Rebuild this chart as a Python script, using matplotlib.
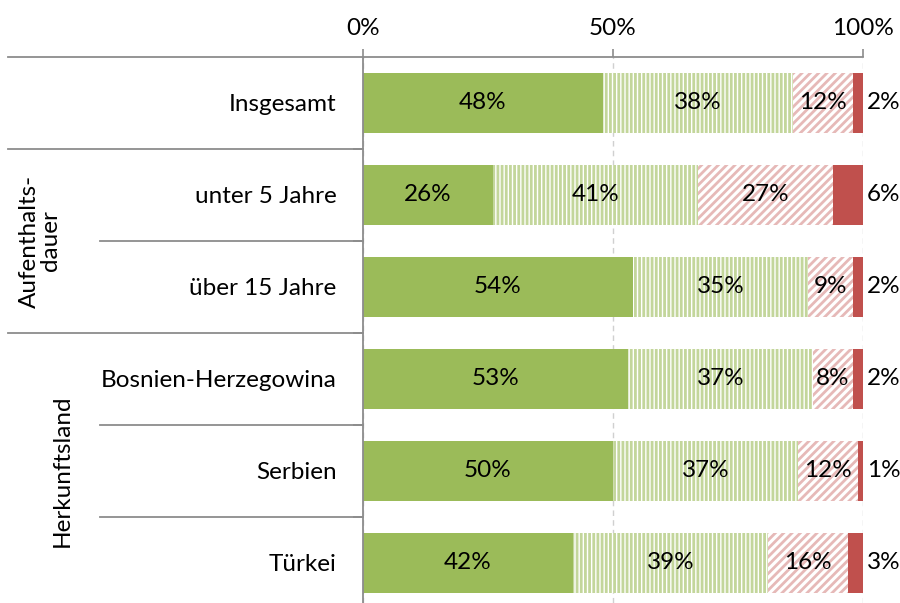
import matplotlib
matplotlib.use("Agg")
import matplotlib.pyplot as plt
import matplotlib.transforms as mtransforms

plt.rcParams['font.family'] = ['Lato', 'DejaVu Sans']
plt.rcParams['hatch.linewidth'] = 2.0

categories = ["Insgesamt", "unter 5 Jahre", "über 15 Jahre",
              "Bosnien-Herzegowina", "Serbien", "Türkei"]
s1 = [48, 26, 54, 53, 50, 42]
s2 = [38, 41, 35, 37, 37, 39]
s3 = [12, 27, 9, 8, 12, 16]
s4 = [2, 6, 2, 2, 1, 3]
xticks = [0, 50, 100]
xticklabels = ["0%", "50%", "100%"]
groups = [("Aufenthalts-\ndauer", 1.5), ("Herkunftsland", 4.0)]

W, H = 900, 603
fig = plt.figure(figsize=(9, 6.03), dpi=100)
ax = fig.add_axes([363 / W, 0, 500 / W, 1 - 57 / H])

FS = 17.5
ypos = list(range(len(categories)))
bh = 0.65
grey = '#8c8c8c'

left = [0] * len(categories)
styles = [
    dict(color='#9BBB59', edgecolor='#9BBB59', linewidth=0),
    dict(facecolor='white', edgecolor='#C3D69B', hatch='||||', linewidth=0),
    dict(facecolor='white', edgecolor='#E6B9B8', hatch='////', linewidth=0),
    dict(color='#C0504D', edgecolor='#C0504D', linewidth=0),
]
series = [s1, s2, s3, s4]
ax.set_axisbelow(True)
for k, (vals, st) in enumerate(zip(series, styles)):
    ax.barh(ypos, vals, left=left, height=bh, zorder=2, **st)
    for i, v in enumerate(vals):
        if k < 3:
            ax.text(left[i] + v / 2, i, f"{v}%", ha='center', va='center',
                    fontsize=FS, color='black', zorder=3)
        else:
            ax.text(100.8, i, f"{v}%", ha='left', va='center',
                    fontsize=FS, color='black', zorder=3, clip_on=False)
    left = [l + v for l, v in zip(left, vals)]

ax.set_xlim(0, 100)
ax.set_ylim(5.435, -0.5)

# x axis on top
ax.xaxis.tick_top()
ax.set_xticks(xticks)
ax.set_xticklabels(xticklabels, fontsize=FS)
ax.tick_params(axis='x', length=6, width=1.2, color=grey, pad=7)
ax.grid(axis='x', color='#D0D0D0', linestyle=(0, (4, 3)), linewidth=1.0)

# y axis
ax.set_yticks(ypos)
ax.set_yticklabels(categories, fontsize=FS)
ax.tick_params(axis='y', which='major', length=0, pad=19)
ax.set_yticks([0.5, 1.5, 2.5, 3.5, 4.5], minor=True)
ax.tick_params(axis='y', which='minor', length=7, width=1.2, color=grey, direction='out')

for sp in ['right', 'bottom']:
    ax.spines[sp].set_visible(False)
for sp in ['top', 'left']:
    ax.spines[sp].set_color(grey)
    ax.spines[sp].set_linewidth(1.3)

# separator lines in the label area
trans = mtransforms.blended_transform_factory(ax.transAxes, ax.transData)
full_x0 = (8 - 363) / 500
sub_x0 = (100 - 363) / 500
for y in [-0.5, 0.5, 2.5]:
    ax.plot([full_x0, 0], [y, y], color=grey, lw=1.3, transform=trans, clip_on=False)
for y in [1.5, 3.5, 4.5]:
    ax.plot([sub_x0, 0], [y, y], color=grey, lw=1.3, transform=trans, clip_on=False)

# group labels
ax.text((40 - 363) / 500, 1.5, groups[0][0], rotation=90, ha='center', va='center',
        fontsize=FS, transform=trans, linespacing=1.05)
ax.text((62 - 363) / 500, 4.0, groups[1][0], rotation=90, ha='center', va='center',
        fontsize=FS, transform=trans)

fig.savefig("out.png", dpi=100)
